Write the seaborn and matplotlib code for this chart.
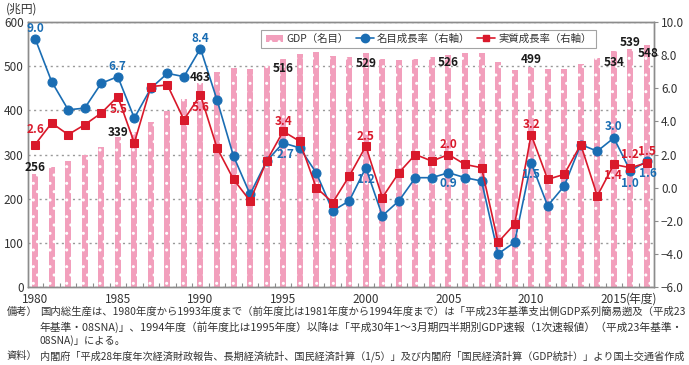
import numpy as np
import pandas as pd
import matplotlib.pyplot as plt
import seaborn as sns
from matplotlib.patches import Patch
from matplotlib.lines import Line2D

years = list(range(1980, 2018))
gdp = [256, 272, 286, 300, 318, 339, 352, 374, 398, 426,
       463, 487, 495, 493, 500, 516, 528, 531, 523, 520,
       529, 517, 514, 517, 520, 526, 529, 530, 509, 491,
       499, 493, 494, 506, 519, 534, 539, 548]
nominal = [9.0, 6.4, 4.7, 4.8, 6.3, 6.7, 4.2, 6.0, 6.9, 6.7,
           8.4, 5.3, 1.9, -0.4, 1.6, 2.7, 2.4, 0.9, -1.4, -0.8,
           1.2, -1.7, -0.8, 0.6, 0.6, 0.9, 0.6, 0.4, -4.0, -3.3,
           1.5, -1.1, 0.1, 2.6, 2.2, 3.0, 1.0, 1.6]
real = [2.6, 3.9, 3.2, 3.8, 4.5, 5.5, 2.7, 6.1, 6.2, 4.1,
        5.6, 2.4, 0.5, -0.8, 1.6, 3.4, 2.8, 0.0, -0.9, 0.7,
        2.5, -0.6, 0.9, 2.0, 1.6, 2.0, 1.4, 1.2, -3.3, -2.2,
        3.2, 0.5, 0.8, 2.6, -0.5, 1.4, 1.2, 1.5]

gdp_label_years = [1980, 1985, 1990, 1995, 2000, 2005, 2010, 2015, 2016, 2017]
nominal_label_years = [1980, 1985, 1990, 1995, 2000, 2005, 2010, 2015, 2016, 2017]
real_label_years = [1980, 1985, 1990, 1995, 2000, 2005, 2010, 2015, 2016, 2017]

legend_labels = ['GDP（名目）', '名目成長率（右軸）', '実質成長率（右軸）']
notes = [
    ('備考）', '国内総生産は、1980年度から1993年度まで（前年度比は1981年度から1994年度まで）は「平成23年基準支出側GDP系列簡易遡及（平成23'),
    ('', '年基準・08SNA)」、1994年度（前年度比は1995年度）以降は「平成30年1～3月期四半期別GDP速報（1次速報値）（平成23年基準・'),
    ('', '08SNA)」による。'),
    ('資料）', '内閣府「平成28年度年次経済財政報告、長期経済統計、国民経済計算（1/5）」及び内閣府「国民経済計算（GDP統計）」より国土交通省作成'),
]

PINK = '#f29fbc'
BLUE = '#1a6db3'
RED = '#d9192b'
GRAY = '#8c8c8c'
TXT = '#333333'

sns.set_theme(style='white')
plt.rcParams['font.family'] = ['Noto Sans CJK JP', 'DejaVu Sans']
plt.rcParams['hatch.linewidth'] = 1.0
plt.rcParams['hatch.color'] = 'white'

df = pd.DataFrame({'year': years, 'gdp': gdp, 'nominal': nominal, 'real': real})

fig = plt.figure(figsize=(6.89, 3.65), dpi=100)
ax = fig.add_axes([28 / 689, 1 - 287 / 365, 626 / 689, 265 / 365])

sns.barplot(data=df, x='year', y='gdp', native_scale=True, width=0.36,
            color=PINK, saturation=1, hatch='..', edgecolor='white',
            linewidth=0, ax=ax, zorder=2)

ax2 = ax.twinx()
sns.lineplot(data=df, x='year', y='nominal', color=BLUE, marker='o',
             markersize=6.5, markeredgecolor=BLUE, linewidth=1.2, ax=ax2)
sns.lineplot(data=df, x='year', y='real', color=RED, marker='s',
             markersize=5.5, markeredgecolor=RED, linewidth=1.2, ax=ax2)

ax.set_xlim(1979.57, 2017.43)
ax.set_ylim(0, 600)
ax2.set_ylim(-6, 10)
ax.set_yticks(range(0, 601, 100))
ax2.set_yticks(np.arange(-6, 10.1, 2))
ax2.set_yticklabels([f'{v:.1f}'.replace('-', '−') for v in np.arange(-6, 10.1, 2)])
ax.set_xticks(range(1980, 2016, 5))
ax.set_xticklabels([str(y) for y in range(1980, 2016, 5)])
ax.set_xticks(np.arange(1980.5, 2017, 1), minor=True)
for a in (ax, ax2):
    a.set_xlabel('')
    a.set_ylabel('')
    for s in a.spines.values():
        s.set_color(GRAY)
        s.set_linewidth(1.0)

ax.tick_params(axis='x', which='major', length=0, pad=4, labelsize=8.5, labelcolor=TXT)
ax.tick_params(axis='x', which='minor', direction='in', length=3, width=0.8, color=GRAY, bottom=True)
ax.tick_params(axis='y', length=0, pad=3, labelsize=8.5, labelcolor=TXT)
ax2.tick_params(axis='y', direction='out', length=3, width=0.8, color=GRAY, pad=2,
                labelsize=8.5, labelcolor=TXT, right=True)

ax.yaxis.grid(True, linestyle=(0, (1.5, 2.5)), color='#999999', linewidth=1.0)
ax.set_axisbelow(True)

ax.text(2015.75, -0.02, '(年度)', transform=ax.get_xaxis_transform(), ha='left', va='top',
        fontsize=8.5, color=TXT)
fig.text(6 / 689, 1 - 9 / 365, '(兆円)', ha='left', va='center', fontsize=8.5, color=TXT)

# data labels: offsets in pixels (dx, dy)
gdp_off = {1980: (0, 6), 1985: (0, 5), 1990: (0, 5), 1995: (0, -9), 2000: (0, -10),
           2005: (0, -8), 2010: (0, 7), 2015: (0, -11), 2016: (0, 6), 2017: (1, -9)}
nom_off = {1980: (0, 10), 1985: (0, 10), 1990: (0, 10), 1995: (2, -12), 2000: (0, -12),
           2005: (0, -11), 2010: (0, -12), 2015: (0, 11), 2016: (0, -12), 2017: (1, -12)}
real_off = {1980: (0, 15), 1985: (1, -13), 1990: (0, -13), 1995: (0, 10), 2000: (0, 10),
            2005: (0, 10), 2010: (0, 10), 2015: (-1, -11), 2016: (0, 13), 2017: (0, 11)}

k = 0.72
for y in gdp_label_years:
    v = gdp[years.index(y)]
    dx, dy = gdp_off[y]
    ax2.annotate(f'{v}', (y, -6 + v * 16 / 600), xytext=(dx * k, dy * k), textcoords='offset points',
                 ha='center', va='center', fontsize=8.5, fontweight='bold', color='#1a1a1a')
for y in nominal_label_years:
    v = nominal[years.index(y)]
    dx, dy = nom_off[y]
    ax2.annotate(f'{v:.1f}', (y, v), xytext=(dx * k, dy * k), textcoords='offset points',
                 ha='center', va='center', fontsize=8.5, fontweight='bold', color=BLUE)
for y in real_label_years:
    v = real[years.index(y)]
    dx, dy = real_off[y]
    ax2.annotate(f'{v:.1f}', (y, v), xytext=(dx * k, dy * k), textcoords='offset points',
                 ha='center', va='center', fontsize=8.5, fontweight='bold', color=RED)

handles = [
    Patch(facecolor=PINK, hatch='..', edgecolor='white', linewidth=0),
    Line2D([], [], color=BLUE, marker='o', markersize=6, linewidth=1.2),
    Line2D([], [], color=RED, marker='s', markersize=5, linewidth=1.2),
]
leg = ax2.legend(handles, legend_labels, loc='center', bbox_to_anchor=(0.64, 0.936),
                 ncol=3, frameon=True, fancybox=False, fontsize=7.5, handlelength=1.7,
                 handleheight=0.7, columnspacing=0.7, handletextpad=0.3,
                 borderpad=0.4, borderaxespad=0)
leg.get_frame().set_edgecolor(GRAY)
leg.get_frame().set_linewidth(0.8)
leg.set_zorder(1)
for t in leg.get_texts():
    t.set_color(TXT)

# notes: fit each long line to the text block width
renderer = fig.canvas.get_renderer()
line_y = [312, 327, 341, 356]
fit = [True, True, False, True]
target_w = 645
base_fs = 7.4
for (head, body), yy, f in zip(notes, line_y, fit):
    if head:
        fig.text(7 / 689, 1 - yy / 365, head, ha='left', va='center', fontsize=base_fs, color=TXT)
    t = fig.text(40 / 689, 1 - yy / 365, body, ha='left', va='center', fontsize=base_fs, color=TXT)
    if f:
        w = t.get_window_extent(renderer).width
        t.set_fontsize(base_fs * target_w / w)

fig.savefig('out.png', dpi=100)
